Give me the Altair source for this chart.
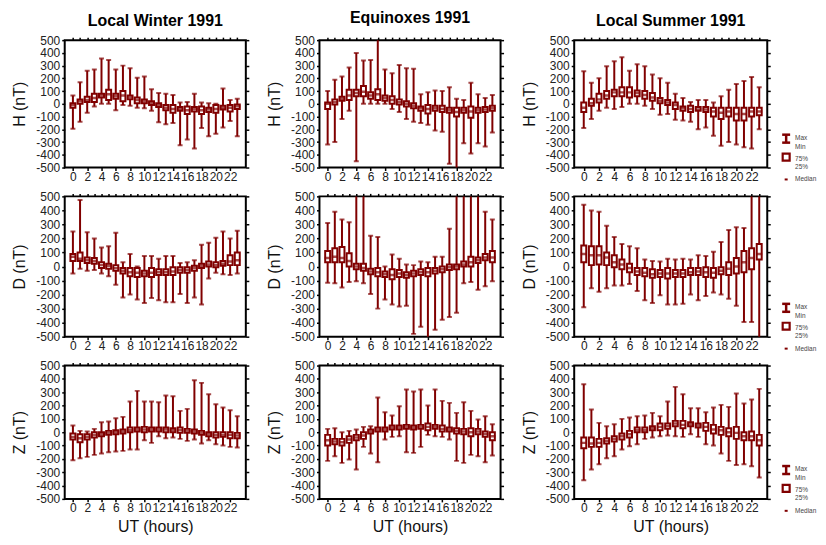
import altair as alt
import pandas as pd

HOURS = list(range(24))
RED = "#800000"
FONT = "Liberation Sans"

# ---------------- H component ----------------
H_WIN_MAX = [65, 170, 260, 270, 355, 345, 270, 300, 280, 205, 215, 115, 85, 80, 70, 10, 15, 80, 10, 5, 0, 120, 30, 40]
H_WIN_Q3 = [5, 35, 55, 80, 80, 110, 80, 100, 65, 50, 35, 20, 5, -10, -10, -25, -20, -25, -20, -30, -10, -15, -10, -5]
H_WIN_MED = [-10, 20, 30, 45, 65, 75, 60, 65, 50, 30, 20, 5, -10, -30, -40, -40, -50, -40, -50, -45, -40, -30, -30, -20]
H_WIN_Q1 = [-30, 0, 15, 15, 50, 30, 40, 20, 35, 5, 5, -10, -25, -50, -70, -55, -80, -60, -80, -65, -70, -45, -60, -40]
H_WIN_MIN = [-195, -140, -70, -20, 0, 0, -50, -10, -15, -30, -35, -55, -145, -160, -150, -325, -280, -350, -190, -255, -235, -185, -135, -255]

H_EQU_MAX = [100, 190, 215, 285, 400, 340, 345, 550, 270, 240, 305, 280, 275, 75, 90, 105, 100, 130, 40, 30, 165, 75, 45, 70]
H_EQU_Q3 = [10, 35, 55, 110, 110, 140, 90, 115, 65, 60, 35, 20, 5, -20, -10, -15, -15, -30, -30, -30, -20, -30, -25, -15]
H_EQU_MED = [0, 15, 40, 65, 85, 95, 65, 75, 45, 30, 15, 0, -15, -35, -40, -35, -40, -50, -65, -50, -60, -50, -45, -35]
H_EQU_Q1 = [-40, -5, 25, 30, 60, 60, 40, 30, 25, 0, -5, -20, -35, -55, -75, -55, -65, -70, -100, -70, -110, -70, -65, -55]
H_EQU_MIN = [-320, -300, -120, -55, -450, 0, 0, 0, 0, -40, -65, -120, -140, -150, -165, -210, -220, -470, -520, -310, -390, -310, -335, -225]

H_SUM_MAX = [255, 165, 200, 295, 335, 365, 260, 310, 295, 230, 200, 165, 80, 45, 15, 30, 30, 10, 60, 110, 155, 180, 210, 130]
H_SUM_Q3 = [10, 40, 80, 100, 110, 130, 130, 105, 100, 85, 45, 30, 10, -20, -15, -25, -25, -30, -30, -30, -30, -30, -30, -30]
H_SUM_MED = [-30, 5, 35, 65, 90, 90, 90, 85, 70, 50, 25, 10, -10, -35, -40, -45, -45, -60, -70, -60, -80, -80, -60, -60]
H_SUM_Q1 = [-65, -15, 10, 40, 60, 60, 50, 60, 40, 25, 5, -10, -40, -55, -65, -55, -65, -100, -120, -100, -130, -130, -100, -90]
H_SUM_MIN = [-190, -120, -55, -30, -40, -25, 0, 0, -15, -40, -85, -80, -125, -130, -140, -200, -185, -250, -330, -300, -320, -340, -350, -200]

# ---------------- D component ----------------
D_WIN_MAX = [250, 475, 245, 200, 135, 145, 240, 30, 90, 0, 75, 75, 55, 75, 75, 25, 30, 45, 155, 170, 205, 250, 200, 255]
D_WIN_Q3 = [90, 100, 65, 60, 30, 20, 10, -10, -10, -10, -30, -10, -20, -20, -5, -5, -5, 5, 20, 35, 30, 40, 80, 100]
D_WIN_MED = [70, 55, 45, 40, 10, 5, -10, -30, -40, -45, -50, -45, -40, -40, -35, -25, -25, -10, 5, 15, 10, 20, 35, 45]
D_WIN_Q1 = [40, 40, 25, 20, -10, -15, -30, -50, -70, -75, -70, -75, -60, -60, -60, -45, -45, -30, -10, 0, -5, 5, 10, 10]
D_WIN_MIN = [-50, -15, -30, -25, -50, -70, -130, -220, -200, -235, -260, -225, -240, -255, -255, -195, -260, -220, -270, -85, -45, -55, -60, -50]

D_EQU_MAX = [310, 390, 335, 315, 520, 520, 220, 210, 0, 85, 55, 15, 10, 35, 30, 70, 70, 270, 520, 520, 520, 520, 390, 335]
D_EQU_Q3 = [110, 130, 140, 95, 20, 20, -15, -10, -35, -20, -25, -40, -30, -20, -10, -10, 0, 15, 15, 35, 70, 65, 90, 110]
D_EQU_MED = [60, 70, 60, 40, 0, -10, -35, -40, -55, -60, -50, -60, -50, -40, -40, -30, -20, -5, 0, 15, 30, 45, 65, 65]
D_EQU_Q1 = [30, 30, 30, 0, -20, -30, -55, -70, -75, -90, -75, -80, -70, -60, -70, -50, -40, -25, -20, 0, 0, 25, 45, 30]
D_EQU_MIN = [-115, -120, -150, -110, -105, -120, -195, -300, -235, -270, -285, -280, -480, -430, -520, -450, -380, -360, -330, -120, -110, -165, -140, -105]

D_SUM_MAX = [440, 400, 390, 290, 210, 160, 145, 130, 50, 40, 35, 55, 50, 55, 50, 80, 75, 105, 175, 260, 280, 275, 520, 520]
D_SUM_Q3 = [150, 145, 145, 100, 80, 50, 20, -10, -10, -20, -25, -10, -25, -25, -10, -10, -5, -10, -5, 30, 60, 110, 130, 160]
D_SUM_MED = [90, 80, 80, 65, 30, 15, -10, -35, -45, -55, -50, -50, -50, -50, -40, -35, -40, -45, -30, -15, 0, 30, 60, 90]
D_SUM_Q1 = [30, 10, 15, 10, -5, -20, -40, -60, -70, -80, -75, -85, -75, -75, -60, -60, -75, -80, -55, -60, -50, -40, -20, 50]
D_SUM_MIN = [-290, -155, -180, -155, -135, -135, -125, -175, -240, -260, -205, -270, -270, -265, -200, -240, -210, -185, -200, -230, -280, -395, -395, -520]

# ---------------- Z component ----------------
Z_WIN_MAX = [50, 10, 5, 25, 75, 80, 105, 115, 230, 310, 230, 230, 225, 275, 270, 160, 175, 390, 370, 285, 210, 185, 165, 120]
Z_WIN_Q3 = [-10, -15, -15, 0, 0, 10, 15, 20, 35, 35, 40, 35, 35, 35, 30, 35, 25, 20, 10, 0, 0, 0, 0, -5]
Z_WIN_MED = [-35, -45, -35, -20, -15, -5, 0, 5, 15, 20, 20, 20, 20, 20, 15, 15, 10, 5, -5, -15, -20, -20, -20, -25]
Z_WIN_Q1 = [-55, -75, -55, -40, -30, -20, -15, -10, 0, 5, 0, 5, 5, 0, 0, -5, -5, -10, -20, -30, -40, -35, -45, -45]
Z_WIN_MIN = [-210, -195, -185, -170, -160, -150, -145, -140, -130, -130, -60, -80, -30, -45, -40, -50, -65, -55, -85, -60, -90, -100, -110, -115]

Z_EQU_MAX = [25, 30, 0, 10, 20, 40, 45, 260, 150, 125, 195, 320, 305, 320, 200, 320, 235, 220, 145, 225, 160, 95, 120, 60]
Z_EQU_Q3 = [-20, -50, -50, -30, -20, 0, 20, 35, 35, 50, 50, 55, 50, 55, 65, 55, 50, 35, 30, 25, 30, 25, 5, 0]
Z_EQU_MED = [-60, -70, -75, -55, -40, -25, 5, 20, 20, 35, 35, 40, 35, 40, 40, 40, 25, 20, 10, 5, 0, 5, -15, -30]
Z_EQU_Q1 = [-100, -90, -100, -80, -60, -50, -10, 5, 5, 20, 20, 25, 20, 25, 15, 25, 5, 5, -10, -15, -30, -15, -35, -60]
Z_EQU_MIN = [-215, -180, -230, -205, -280, -110, -160, -225, -55, -35, -30, -150, -155, -110, -20, -30, -35, -55, -215, -230, -170, -180, -225, -175]

Z_SUM_MAX = [360, 170, 70, 45, 60, 100, 110, 120, 125, 145, 120, 230, 340, 285, 180, 180, 150, 185, 205, 190, 290, 215, 245, 325]
Z_SUM_Q3 = [-40, -40, -50, -45, -30, -10, 10, 35, 35, 45, 65, 65, 85, 85, 75, 65, 70, 55, 40, 30, 40, 0, 5, -20]
Z_SUM_MED = [-80, -85, -80, -65, -50, -30, -15, 15, 15, 30, 40, 45, 65, 55, 60, 50, 40, 20, 15, 0, -5, -30, -30, -60]
Z_SUM_Q1 = [-120, -110, -110, -85, -70, -55, -40, 0, 0, 15, 15, 25, 45, 30, 45, 35, 10, -10, -20, -30, -50, -60, -60, -100]
Z_SUM_MIN = [-360, -280, -240, -195, -180, -130, -105, -90, -50, -40, -30, -25, -30, -35, -15, -35, -90, -100, -160, -215, -245, -240, -255, -340]

COL_TITLES = ["Local Winter 1991", "Equinoxes 1991", "Local Summer 1991"]
ROW_TITLES = ["H (nT)", "D (nT)", "Z (nT)"]
X_TICKS = list(range(0, 23, 2))
Y_TICKS = list(range(-500, 501, 100))
LEGEND_LABELS = ["Max", "Min", "75%", "25%", "Median"]

PANELS = [
    [(H_WIN_MAX, H_WIN_Q3, H_WIN_MED, H_WIN_Q1, H_WIN_MIN),
     (H_EQU_MAX, H_EQU_Q3, H_EQU_MED, H_EQU_Q1, H_EQU_MIN),
     (H_SUM_MAX, H_SUM_Q3, H_SUM_MED, H_SUM_Q1, H_SUM_MIN)],
    [(D_WIN_MAX, D_WIN_Q3, D_WIN_MED, D_WIN_Q1, D_WIN_MIN),
     (D_EQU_MAX, D_EQU_Q3, D_EQU_MED, D_EQU_Q1, D_EQU_MIN),
     (D_SUM_MAX, D_SUM_Q3, D_SUM_MED, D_SUM_Q1, D_SUM_MIN)],
    [(Z_WIN_MAX, Z_WIN_Q3, Z_WIN_MED, Z_WIN_Q1, Z_WIN_MIN),
     (Z_EQU_MAX, Z_EQU_Q3, Z_EQU_MED, Z_EQU_Q1, Z_EQU_MIN),
     (Z_SUM_MAX, Z_SUM_Q3, Z_SUM_MED, Z_SUM_Q1, Z_SUM_MIN)],
]

WIDTHS = [182, 182, 194]
HEIGHTS = [128, 141, 134]
X_DOMAINS = [[-0.45, 23.5], [-0.45, 23.45], [-0.6, 23.4]]


def legend_layers(h):
    src = alt.Chart(pd.DataFrame({"k": [0]}))
    gx = 213
    layers = [
        src.mark_rule(color=RED, strokeWidth=2.5).encode(
            x=alt.value(gx), y=alt.value(h - 33), y2=alt.value(h - 25)),
        src.mark_rule(color=RED, strokeWidth=2.5).encode(
            x=alt.value(gx - 4), x2=alt.value(gx + 4), y=alt.value(h - 33)),
        src.mark_rule(color=RED, strokeWidth=2.5).encode(
            x=alt.value(gx - 4), x2=alt.value(gx + 4), y=alt.value(h - 25)),
        src.mark_rect(fill="white", stroke=RED, strokeWidth=2.2).encode(
            x=alt.value(gx - 3.5), x2=alt.value(gx + 3.5), y=alt.value(h - 14), y2=alt.value(h - 7)),
        src.mark_rect(color=RED).encode(
            x=alt.value(gx - 1.5), x2=alt.value(gx + 1.5), y=alt.value(h + 11), y2=alt.value(h + 13)),
    ]
    offs = [-30, -21, -9, -1, 12]
    for lab, o in zip(LEGEND_LABELS, offs):
        layers.append(
            src.mark_text(align="left", baseline="middle", fontSize=6.5, color="#444", font=FONT).encode(
                x=alt.value(222), y=alt.value(h + o), text=alt.value(lab)))
    return layers


def panel(r, c):
    mx, q3, md, q1, mn = PANELS[r][c]
    df = pd.DataFrame({"hour": HOURS, "mx": mx, "q3": q3, "md": md, "q1": q1, "mn": mn})
    w, h = WIDTHS[c], HEIGHTS[r]
    xs = alt.Scale(domain=X_DOMAINS[c], nice=False, zero=False)
    ys = alt.Scale(domain=[-500, 500], nice=False, zero=False)
    base = alt.Chart(df)
    xtitle = "UT (hours)" if r == 2 else None
    xaxis = alt.Axis(values=X_TICKS, title=xtitle, tickSize=3, labelPadding=1,
                     titleFontSize=16, titlePadding=5, labelFlush=False)
    yaxis = alt.Axis(values=Y_TICKS, title=ROW_TITLES[r], tickSize=3, labelPadding=2,
                     titlePadding=8, labelExpr="'' + datum.value", labelFlush=False)
    xn = alt.X("hour:Q", scale=xs, axis=None)

    whisk = base.mark_rule(color=RED, strokeWidth=2, clip=True).encode(
        x=alt.X("hour:Q", scale=xs, axis=xaxis),
        y=alt.Y("mn:Q", scale=ys, axis=yaxis), y2="mx:Q")
    cap_hi = base.mark_tick(color=RED, orient="horizontal", size=5, thickness=2, clip=True).encode(
        x=xn, y=alt.Y("mx:Q", scale=ys, axis=None))
    cap_lo = base.mark_tick(color=RED, orient="horizontal", size=5, thickness=2, clip=True).encode(
        x=xn, y=alt.Y("mn:Q", scale=ys, axis=None))
    box = base.mark_bar(size=5, fill="white", stroke=RED, strokeWidth=2, clip=True).encode(
        x=xn, y=alt.Y("q1:Q", scale=ys, axis=None), y2="q3:Q")
    med = base.mark_tick(color=RED, orient="horizontal", size=6, thickness=2.5, clip=True).encode(
        x=xn, y=alt.Y("md:Q", scale=ys, axis=None))
    mirror = base.mark_point(opacity=0).encode(
        x=alt.X("hour:Q", scale=xs, axis=alt.Axis(orient="top", labels=False, title=None, tickSize=3,
                                                   values=HOURS, domain=False)),
        y=alt.Y("md:Q", scale=ys, axis=alt.Axis(orient="right", labels=False, title=None, tickSize=3,
                                                  values=Y_TICKS, domain=False)))
    layers = [whisk, box, cap_hi, cap_lo, med, mirror]
    if c == 2:
        layers += legend_layers(h)
    props = dict(width=w, height=h)
    if r == 0:
        props["title"] = alt.TitleParams(COL_TITLES[c], fontSize=16, font=FONT, fontWeight="bold",
                                         offset=8 if c == 1 else 5)
    return alt.layer(*layers).resolve_axis(x="independent", y="independent").properties(**props)


charts = [panel(r, c) for r in range(3) for c in range(3)]

chart = alt.concat(*charts, columns=3, spacing={"row": 29, "column": 74}, bounds="flush").properties(
    padding={"left": 2, "top": 0, "right": 0, "bottom": 0}
).configure_view(
    stroke="black", strokeWidth=2
).configure_axis(
    labelFont=FONT, labelFontSize=12, labelColor="#222", tickColor="black", tickWidth=1.5,
    domain=False, grid=False, titleFont=FONT, titleFontSize=16, titleFontWeight="normal",
    titleColor="#111"
)

chart.save("out.html", embed_options={"renderer": "svg", "actions": False})
